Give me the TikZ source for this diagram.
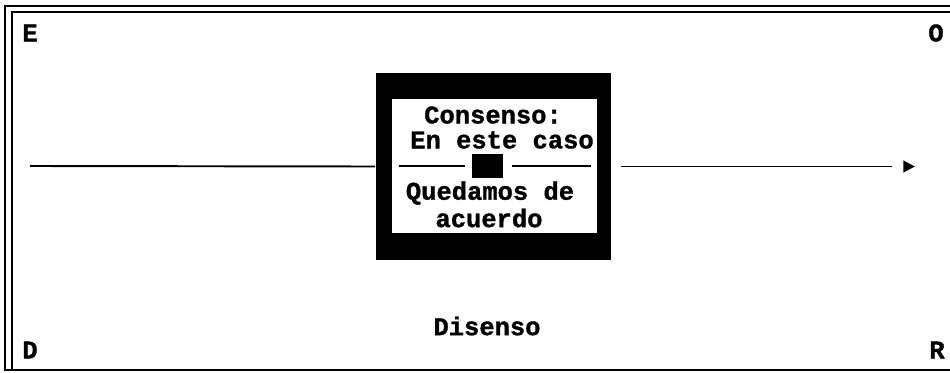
\documentclass[tikz,border=0pt]{standalone}
\usepackage{fontspec}
\setmonofont{Liberation Mono}[BoldFeatures={FakeBold=1.2}]
\usetikzlibrary{shapes.geometric,positioning}

\begin{document}
\begin{tikzpicture} [
    x=0.02cm, y=-0.02cm, line width=1.1pt,
    font=\ttfamily\bfseries\fontsize{14.5}{14}\selectfont,
    plain/.style = {draw=none,inner sep=0},
    frame/.style = {line width=1.4pt},
    blackbox/.style = {rectangle,fill=black,inner sep=0,minimum width=4.7cm,minimum height=3.74cm},
    whitebox/.style = {rectangle,fill=white,inner sep=0,minimum width=4.1cm,minimum height=2.68cm},
    knot/.style = {rectangle,fill=black,inner sep=0,minimum width=0.62cm,minimum height=0.48cm},
    tip/.style = {isosceles triangle,isosceles triangle stretches,fill=black,inner sep=0,
                  minimum width=7pt,minimum height=6.5pt}
    ]

    \useasboundingbox (0,0) rectangle (950,372);

    \pgfmathsetmacro{\ly}{166}

    % double frame, open on the right
    \draw[frame] (950,6) -- (5,6) -- (5,370) -- (950,370);
    \draw[frame] (950,12) -- (12,12) -- (12,370);

    \node (e) [plain] at (30,33) {E};
    \node (o) [plain] at (936,33) {O};
    \node (d) [plain] at (30,350) {D};
    \node (r) [plain] at (937,350) {R};

    \node (dis) [plain] at (487,326) {Disenso};

    \node (box) [blackbox] at (493.5,166.5) {};
    \node (inner) [whitebox] at (494.5,166) {};
    \node (k) [knot] at (487.5,\ly) {};

    \node (c1) [plain] at (493,115) {Consenso:};
    \node (c2) [plain] at (502,140) {En este caso};
    \node (q1) [plain] at (490,193) {Quedamos de};
    \node (q2) [plain] at (489,218) {acuerdo};

    \coordinate (start) at (30,\ly);
    \node (arrow) [tip] at (907,\ly+0.5) {};

    \draw (start) -- (box.west);
    \draw[shorten <=5pt,shorten >=5.7pt] (box.east) -- (arrow.west);

    \draw[shorten <=4.5pt,shorten >=3.4pt] (inner.west |- k) -- (k.west);
    \draw[shorten <=4.5pt,shorten >=4pt] (k.east) -- (inner.east |- k);

\end{tikzpicture}
\end{document}
